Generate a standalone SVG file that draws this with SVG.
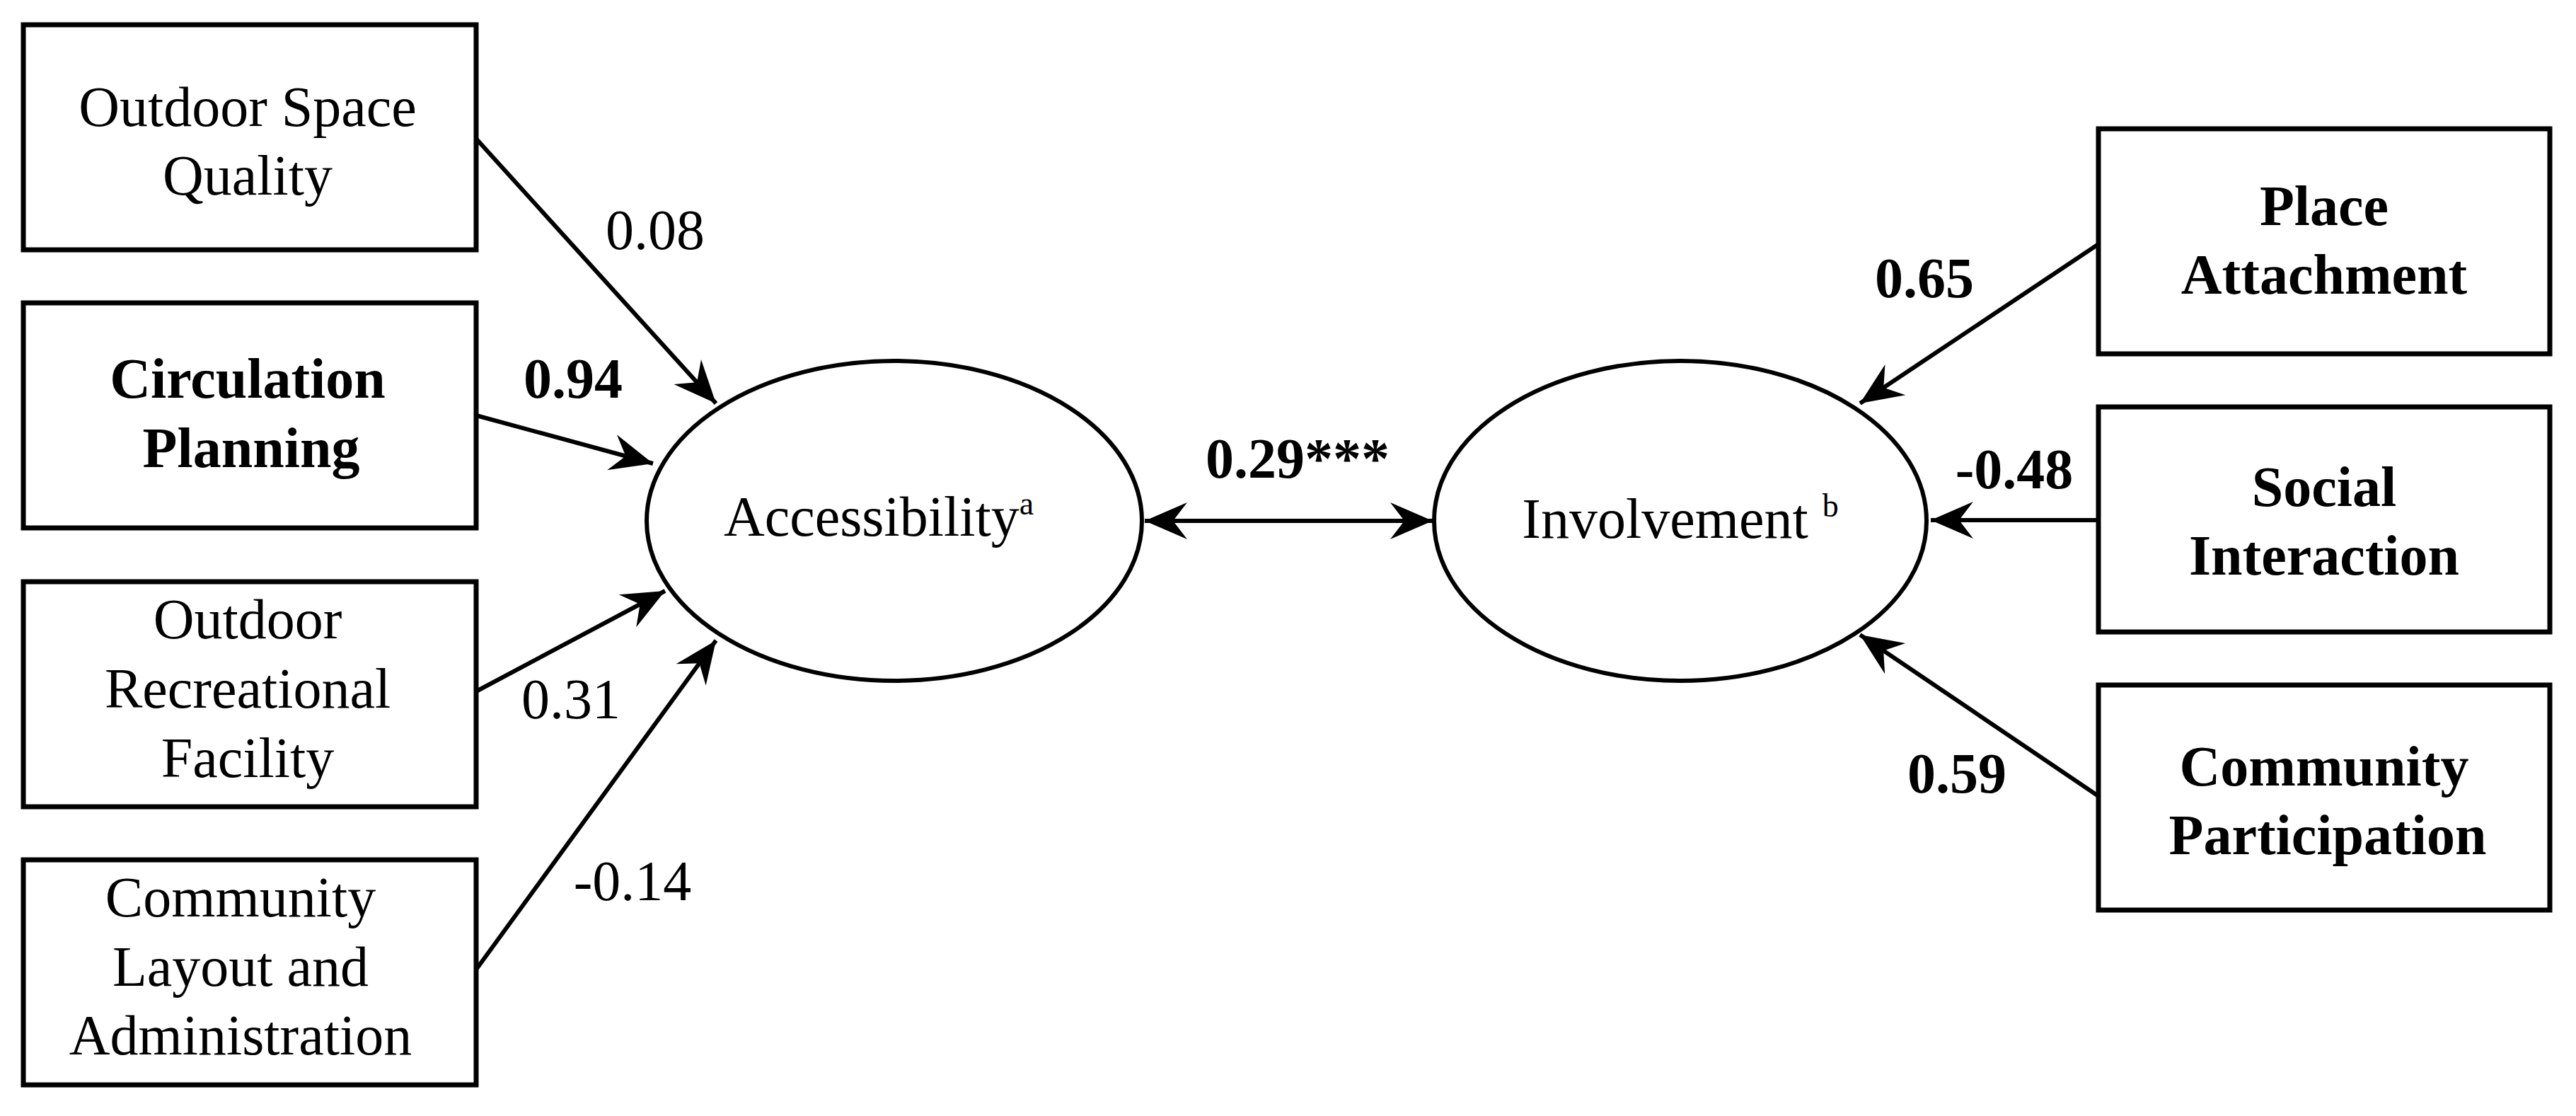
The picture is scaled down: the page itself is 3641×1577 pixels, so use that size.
<svg xmlns="http://www.w3.org/2000/svg" width="3641" height="1577" viewBox="0 0 3641 1577">
<style>
text{font-family:"Liberation Serif","Times New Roman",serif;font-size:80px;fill:#000;text-anchor:middle}
.b{font-weight:bold}
.box{fill:#fff;stroke:#000;stroke-width:7}
.ell{fill:#fff;stroke:#000;stroke-width:6}
.c{stroke:#000;stroke-width:6;fill:none}
</style>
<defs>
<marker id="ah" markerUnits="userSpaceOnUse" markerWidth="80" markerHeight="60" viewBox="0 0 80 60" refX="70" refY="30" orient="auto-start-reverse">
<path d="M70,30 L10,4 L30,30 L10,56 Z" fill="#000"/>
</marker>
</defs>
<g id="connectors">
<line class="c" x1="673" y1="196" x2="1012" y2="570" marker-end="url(#ah)"/>
<line class="c" x1="673" y1="587" x2="923" y2="655" marker-end="url(#ah)"/>
<line class="c" x1="673" y1="977" x2="940" y2="835" marker-end="url(#ah)"/>
<line class="c" x1="673" y1="1370" x2="1012" y2="905" marker-end="url(#ah)"/>
<line class="c" x1="1618" y1="736" x2="2025" y2="736" marker-start="url(#ah)" marker-end="url(#ah)"/>
<line class="c" x1="2966" y1="345" x2="2629" y2="570" marker-end="url(#ah)"/>
<line class="c" x1="2966" y1="735" x2="2729" y2="735" marker-end="url(#ah)"/>
<line class="c" x1="2966" y1="1125" x2="2629" y2="897" marker-end="url(#ah)"/>
<text x="926" y="352">0.08</text>
<text class="b" x="810" y="562">0.94</text>
<text x="807" y="1015">0.31</text>
<text x="894" y="1272">-0.14</text>
<text class="b" x="1834" y="675">0.29***</text>
<text class="b" x="2720" y="420">0.65</text>
<text class="b" x="2847" y="690">-0.48</text>
<text class="b" x="2766" y="1120">0.59</text>
</g>
<g id="n1"><rect class="box" x="33" y="35" width="640" height="318"/><text x="350" y="178">Outdoor Space</text><text x="350" y="275">Quality</text></g>
<g id="n2"><rect class="box" x="33" y="428" width="640" height="318"/><text class="b" x="350" y="562">Circulation</text><text class="b" x="355" y="660">Planning</text></g>
<g id="n3"><rect class="box" x="33" y="822" width="640" height="318"/><text x="350" y="902">Outdoor</text><text x="350" y="1000">Recreational</text><text x="350" y="1098">Facility</text></g>
<g id="n4"><rect class="box" x="33" y="1215" width="640" height="318"/><text x="340" y="1295">Community</text><text x="340" y="1393">Layout and</text><text x="340" y="1490">Administration</text></g>
<g id="acc"><ellipse class="ell" cx="1264" cy="736" rx="350" ry="226"/><text x="1242" y="757">Accessibility<tspan font-size="46" dy="-30">a</tspan></text></g>
<g id="inv"><ellipse class="ell" cx="2375" cy="736" rx="348" ry="226"/><text x="2375" y="760">Involvement <tspan font-size="46" dy="-30">b</tspan></text></g>
<g id="r1"><rect class="box" x="2966" y="182" width="638" height="318"/><text class="b" x="3285" y="318">Place</text><text class="b" x="3285" y="415">Attachment</text></g>
<g id="r2"><rect class="box" x="2966" y="575" width="638" height="318"/><text class="b" x="3285" y="715">Social</text><text class="b" x="3285" y="812">Interaction</text></g>
<g id="r3"><rect class="box" x="2966" y="968" width="638" height="318"/><text class="b" x="3285" y="1110">Community</text><text class="b" x="3290" y="1207">Participation</text></g>
</svg>
